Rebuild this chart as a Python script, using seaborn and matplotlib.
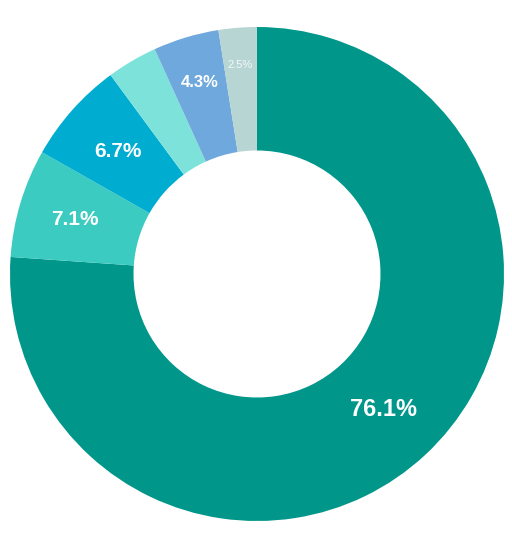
import numpy as np
import seaborn as sns
import matplotlib
matplotlib.use("Agg")
import matplotlib.pyplot as plt

# share of each segment, clockwise from 12 o'clock
shares = [76.1, 7.1, 6.7, 3.3, 4.3, 2.5]
labels = ["76.1%", "7.1%", "6.7%", "", "4.3%", "2.5%"]
colors = ["#00968a", "#3ccbc1", "#00acd0", "#7de3da", "#6fa8dc", "#b7d5d3"]

sns.set_theme(style="white")
plt.rcParams['font.family'] = ['Liberation Sans', 'DejaVu Sans']

fig = plt.figure(figsize=(5.12, 5.37), dpi=100)
ax = fig.add_axes([0, 0, 1, 1])

wedges, _ = ax.pie(shares, colors=colors, startangle=90, counterclock=False,
                   radius=1, wedgeprops=dict(width=0.5, linewidth=0))

#%% labels inside the ring
lab_r = [0.75, 0.77, 0.75, 0.77, 0.81, 0.85]
lab_size = [17, 15, 15, 12, 12, 8]
for w, txt, r, fs in zip(wedges, labels, lab_r, lab_size):
    if not txt:
        continue
    ang = np.deg2rad((w.theta1 + w.theta2) / 2)
    ax.text(r * np.cos(ang), r * np.sin(ang), txt, ha="center", va="center",
            color="white", fontsize=fs,
            fontweight="normal" if fs < 9 else "bold",
            alpha=0.85 if fs < 9 else 1)

# centre at (257, 274) px, outer radius about 247 px
ax.set_xlim(-257 / 247, (512 - 257) / 247)
ax.set_ylim(-(537 - 274) / 247, 274 / 247)
ax.set_aspect("auto")
ax.axis("off")

fig.savefig("out.png", dpi=100)
